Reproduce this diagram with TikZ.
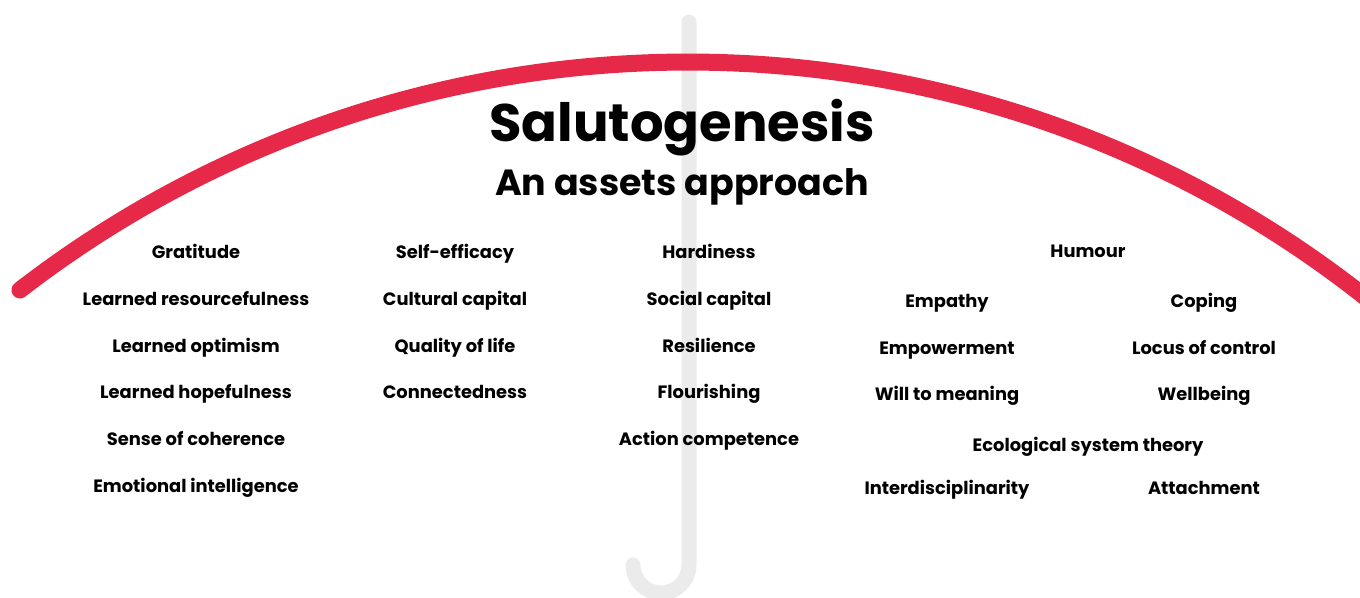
\documentclass[tikz,border=0pt]{standalone}
\usepackage{fontspec}
\setmainfont{Poppins}
\definecolor{umbred}{RGB}{230,41,72}
\definecolor{umbgray}{RGB}{235,235,235}
\tikzset{
  item/.style={anchor=base, inner sep=0pt, font=\fontsize{13.4}{16}\selectfont\bfseries, text=black},
  titletext/.style={anchor=base, inner sep=0pt, font=\fontsize{39.6}{46}\selectfont\bfseries},
  subtitletext/.style={anchor=base, inner sep=0pt, font=\fontsize{27.3}{32}\selectfont\bfseries},
  canopy/.style={draw=umbred, line width=12.75pt, line cap=round},
  handle/.style={draw=umbgray, line width=11.25pt, line cap=round}
}
\begin{document}
\begin{tikzpicture}[x=0.75pt, y=-0.75pt]
\useasboundingbox (0,0) rectangle (1360,597);
\clip (0,0) rectangle (1360,597);
% handle
\coordinate (htop) at (689,22);
\coordinate (hbend) at (689,565);
\draw[handle] (htop) -- (hbend) arc[start angle=0, end angle=-180, radius=21pt];
% canopy
\coordinate (c) at (688,1155);
\draw[canopy] (c) ++(127.68:819.75pt) arc[start angle=127.68, end angle=49, radius=819.75pt];
% titles
\node[titletext] (t1) at (682,141) {Salutogenesis};
\node[subtitletext] (t2) at (682,195) {An assets approach};
% column 1
\node[item] (a1) at (196,258) {Gratitude};
\node[item] (a2) at (196,305) {Learned resourcefulness};
\node[item] (a3) at (196,352) {Learned optimism};
\node[item] (a4) at (196,398) {Learned hopefulness};
\node[item] (a5) at (196,445) {Sense of coherence};
\node[item] (a6) at (196,492) {Emotional intelligence};
% column 2
\node[item] (b1) at (455,258) {Self-efficacy};
\node[item] (b2) at (455,305) {Cultural capital};
\node[item] (b3) at (455,352) {Quality of life};
\node[item] (b4) at (455,398) {Connectedness};
% column 3
\node[item] (c1) at (709,258) {Hardiness};
\node[item] (c2) at (709,305) {Social capital};
\node[item] (c3) at (709,352) {Resilience};
\node[item] (c4) at (709,398) {Flourishing};
\node[item] (c5) at (709,445) {Action competence};
% column 4
\node[item] (d1) at (1088,257) {Humour};
\node[item] (d2) at (947,307) {Empathy};
\node[item] (d3) at (1204,307) {Coping};
\node[item] (d4) at (947,354) {Empowerment};
\node[item] (d5) at (1204,354) {Locus of control};
\node[item] (d6) at (947,400) {Will to meaning};
\node[item] (d7) at (1204,400) {Wellbeing};
\node[item] (d8) at (1088,451) {Ecological system theory};
\node[item] (d9) at (947,494) {Interdisciplinarity};
\node[item] (d10) at (1204,494) {Attachment};
\end{tikzpicture}
\end{document}
